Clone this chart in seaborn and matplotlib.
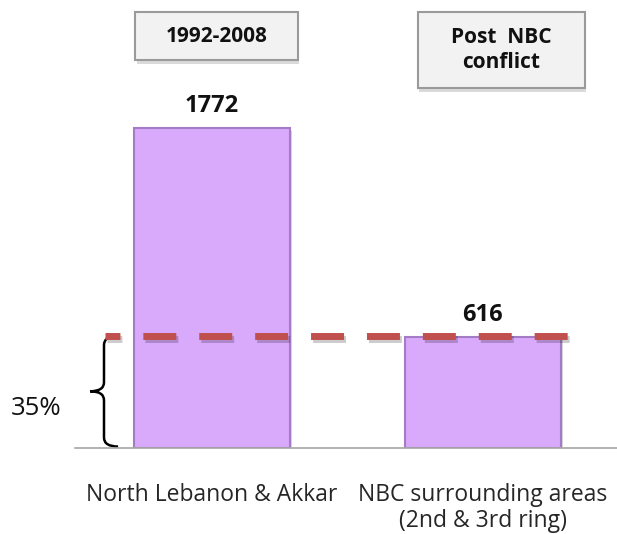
import matplotlib
matplotlib.use("Agg")
import matplotlib.pyplot as plt
import matplotlib.patheffects as pe
from matplotlib.path import Path
from matplotlib.patches import PathPatch, Rectangle
import seaborn as sns
import pandas as pd

# data
regions = ["North Lebanon & Akkar", "NBC surrounding areas\n(2nd & 3rd ring)"]
counts = [1772, 616]
periods = ["1992-2008", "Post  NBC\nconflict"]
share = 0.35
share_label = "35%"

df = pd.DataFrame({"region": regions, "count": counts})

sns.set_style("white")
plt.rcParams["font.family"] = ["Open Sans", "DejaVu Sans"]

fig = plt.figure(figsize=(6.17, 5.34), dpi=100)
ax = fig.add_axes([75 / 617, 86 / 534, 542 / 617, 448 / 534])

sns.barplot(data=df, x="region", y="count", color="#d9a9fc", width=0.576,
            edgecolor="#a47cc6", linewidth=1.5, saturation=1, ax=ax)
for p in ax.patches:
    p.set_path_effects([pe.SimplePatchShadow(offset=(2, -2), alpha=0.2), pe.Normal()])

ax.set_xlim(-0.504, 1.496)
ax.set_ylim(0, 2481)
ax.set_yticks([])
ax.set_xlabel("")
ax.set_ylabel("")
for s in ["left", "right", "top"]:
    ax.spines[s].set_visible(False)
ax.spines["bottom"].set_color("#a6a6a6")
ax.spines["bottom"].set_linewidth(1.2)
ax.tick_params(axis="x", length=0, pad=25, labelsize=16.5, labelcolor="#262626")
for lbl in ax.get_xticklabels():
    lbl.set_linespacing(1.12)

# value labels
for i, v in enumerate(counts):
    ax.text(i, v + 55, str(v), ha="center", va="bottom", fontsize=17,
            fontweight="bold", color="#111111")

# period boxes (x0, x1, y0, y1 in data units)
boxes = [(-0.282, 0.319, 2148, 2414), (0.762, 1.378, 1993, 2414)]
for (bx0, bx1, by0, by1), p in zip(boxes, periods):
    ax.add_patch(Rectangle((bx0, by0), bx1 - bx0, by1 - by0, fc="#f2f2f2",
                           ec="#9a9a9a", lw=1.5, clip_on=False,
                           path_effects=[pe.SimplePatchShadow(offset=(1, -3), alpha=0.2),
                                         pe.Normal()]))
    ax.text((bx0 + bx1) / 2, (by0 + by1) / 2, p, ha="center", va="center",
            fontsize=15, fontweight="bold", color="#111111", linespacing=1.25)

# dashed 35% line
level = share * counts[0]
ax.plot([-0.393, 1.323], [level, level], color="#c0504d", lw=5,
        linestyle=(2.6, (4.75, 3.3)), dash_capstyle="butt",
        path_effects=[pe.SimpleLineShadow(offset=(1.5, -2.5), alpha=0.2), pe.Normal()])

# curly brace
x0, xe, xt = -0.397, -0.345, -0.448
top, bot = level, 8
ym = (top + bot) / 2
r = 50
verts = [(xe, top), (x0, top), (x0, top - r),
         (x0, ym + r), (x0, ym), (xt, ym),
         (x0, ym), (x0, ym - r),
         (x0, bot + r), (x0, bot), (xe, bot)]
codes = [Path.MOVETO, Path.CURVE3, Path.CURVE3,
         Path.LINETO, Path.CURVE3, Path.CURVE3,
         Path.CURVE3, Path.CURVE3,
         Path.LINETO, Path.CURVE3, Path.CURVE3]
ax.add_patch(PathPatch(Path(verts, codes), fc="none", ec="black", lw=1.8,
                       clip_on=False))
ax.text(-0.648, 221, share_label, ha="center", va="center", fontsize=18.5,
        color="#111111")

fig.savefig("out.png", dpi=100)
